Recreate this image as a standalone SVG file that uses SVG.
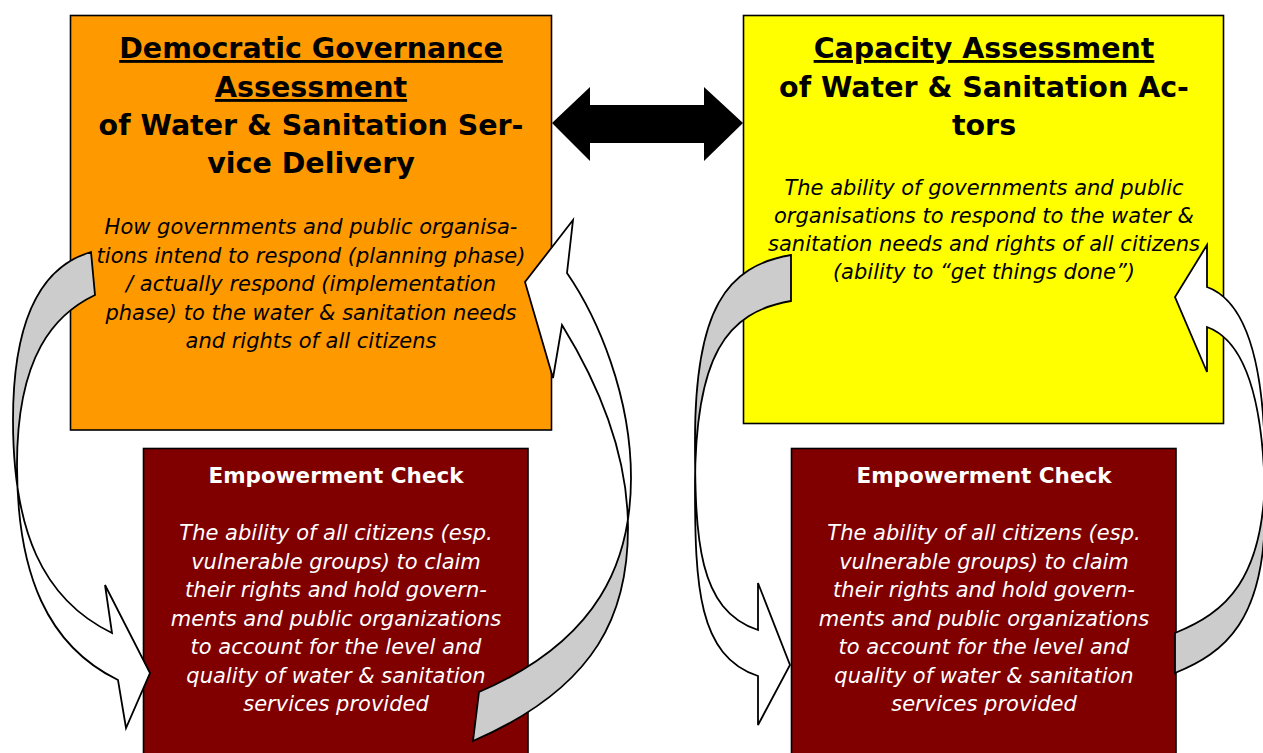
<svg xmlns="http://www.w3.org/2000/svg" width="1263" height="753" viewBox="0 0 1263 753">
<defs>
<style>
.box{stroke:#000;stroke-width:1.6}
.orange{fill:#FF9900}
.yellow{fill:#FFFF00}
.maroon{fill:#800000}
.title{font-family:"DejaVu Sans",Verdana,sans-serif;font-weight:bold;font-size:28.5px;text-anchor:middle;fill:#000}
.u{text-decoration:underline}
.body{font-family:"DejaVu Sans",Verdana,sans-serif;font-style:italic;font-size:21px;text-anchor:middle;fill:#000}
.wtitle{font-family:"DejaVu Sans",Verdana,sans-serif;font-weight:bold;font-size:21.5px;text-anchor:middle;fill:#fff}
.wbody{font-family:"DejaVu Sans",Verdana,sans-serif;font-style:italic;font-size:21px;text-anchor:middle;fill:#fff}
.gray{fill:#CCCCCC}
.white{fill:#FFFFFF}
.outline{fill:none;stroke:#000;stroke-width:1.8;stroke-linejoin:miter}
</style>
<path id="pA" d="M91,252 L95,295 C55,314 17,355 17,465 C17,575 48,646 118,680 L126,728 L150,673 L105,585 L112,633 C42,599 13,530 13,420 C13,310 46,265 91,252 Z"/>
<path id="pB" d="M479,692 L473,741 C600,686 628,610 628,528 C628,446 591,372 562,325 L553,378 L525,282 L573,220 L567,273 C598,318 631,396 631,478 C631,560 600,640 479,692 Z"/>
<path id="pC" d="M791,255 L791,301 C726,312 695,356 695,486 C695,586 698,656 758,676 L758,725 L790,665 L758,583 L758,630 C698,610 695,540 695,440 C695,310 726,266 791,255 Z"/>
<path id="pD" d="M1175,633 L1175,673 C1225,653 1265,620 1265,510 C1265,440 1257,345 1207,327 L1207,372 L1175,297 L1207,245 L1207,287 C1257,305 1265,400 1265,470 C1265,580 1225,613 1175,633 Z"/>
<clipPath id="cA"><rect x="0" y="478" width="1263" height="300"/></clipPath>
<clipPath id="cB"><rect x="0" y="0" width="1263" height="515"/></clipPath>
<clipPath id="cC"><rect x="0" y="463" width="1263" height="300"/></clipPath>
<clipPath id="cD"><rect x="0" y="0" width="1263" height="490"/></clipPath>
</defs>
<rect x="0" y="0" width="1263" height="753" fill="#fff"/>

<g id="democratic-governance">
<rect class="box orange" x="70.5" y="15.5" width="481" height="414.5"/>
<text class="title u" x="311" y="58">Democratic Governance</text>
<text class="title u" x="311" y="97">Assessment</text>
<text class="title" x="311" y="135">of Water &amp; Sanitation Ser-</text>
<text class="title" x="311" y="173">vice Delivery</text>
<text class="body" x="311" y="234">How governments and public organisa-</text>
<text class="body" x="311" y="262.5">tions intend to respond (planning phase)</text>
<text class="body" x="311" y="291">/ actually respond (implementation</text>
<text class="body" x="311" y="319.5">phase) to the water &amp; sanitation needs</text>
<text class="body" x="311" y="348">and rights of all citizens</text>
</g>

<g id="capacity-assessment">
<rect class="box yellow" x="743.5" y="15.5" width="480" height="408"/>
<text class="title u" x="984" y="58">Capacity Assessment</text>
<text class="title" x="984" y="97">of Water &amp; Sanitation Ac-</text>
<text class="title" x="984" y="135">tors</text>
<text class="body" x="984" y="195">The ability of governments and public</text>
<text class="body" x="984" y="223">organisations to respond to the water &amp;</text>
<text class="body" x="984" y="251">sanitation needs and rights of all citizens</text>
<text class="body" x="984" y="279">(ability to “get things done”)</text>
</g>

<g id="empowerment-left">
<rect class="box maroon" x="143.5" y="448.5" width="384.5" height="320"/>
<text class="wtitle" x="336" y="483">Empowerment Check</text>
<text class="wbody" x="336" y="540">The ability of all citizens (esp.</text>
<text class="wbody" x="336" y="568.5">vulnerable groups) to claim</text>
<text class="wbody" x="336" y="597">their rights and hold govern-</text>
<text class="wbody" x="336" y="625.5">ments and public organizations</text>
<text class="wbody" x="336" y="654">to account for the level and</text>
<text class="wbody" x="336" y="682.5">quality of water &amp; sanitation</text>
<text class="wbody" x="336" y="711">services provided</text>
</g>

<g id="empowerment-right">
<rect class="box maroon" x="791.5" y="448.5" width="384.5" height="320"/>
<text class="wtitle" x="984" y="483">Empowerment Check</text>
<text class="wbody" x="984" y="540">The ability of all citizens (esp.</text>
<text class="wbody" x="984" y="568.5">vulnerable groups) to claim</text>
<text class="wbody" x="984" y="597">their rights and hold govern-</text>
<text class="wbody" x="984" y="625.5">ments and public organizations</text>
<text class="wbody" x="984" y="654">to account for the level and</text>
<text class="wbody" x="984" y="682.5">quality of water &amp; sanitation</text>
<text class="wbody" x="984" y="711">services provided</text>
</g>

<g id="connectors">
<polygon points="552,123 590,87 590,105 704,105 704,87 743,123 704,161 704,143 590,143 590,161" fill="#000"/>
<g id="loop-left-down">
<use href="#pA" class="gray"/>
<use href="#pA" class="white" clip-path="url(#cA)"/>
<use href="#pA" class="outline"/>
</g>
<g id="loop-left-up">
<use href="#pB" class="gray"/>
<use href="#pB" class="white" clip-path="url(#cB)"/>
<use href="#pB" class="outline"/>
</g>
<g id="loop-right-down">
<use href="#pC" class="gray"/>
<use href="#pC" class="white" clip-path="url(#cC)"/>
<use href="#pC" class="outline"/>
</g>
<g id="loop-right-up">
<use href="#pD" class="gray"/>
<use href="#pD" class="white" clip-path="url(#cD)"/>
<use href="#pD" class="outline"/>
</g>
</g>
</svg>
